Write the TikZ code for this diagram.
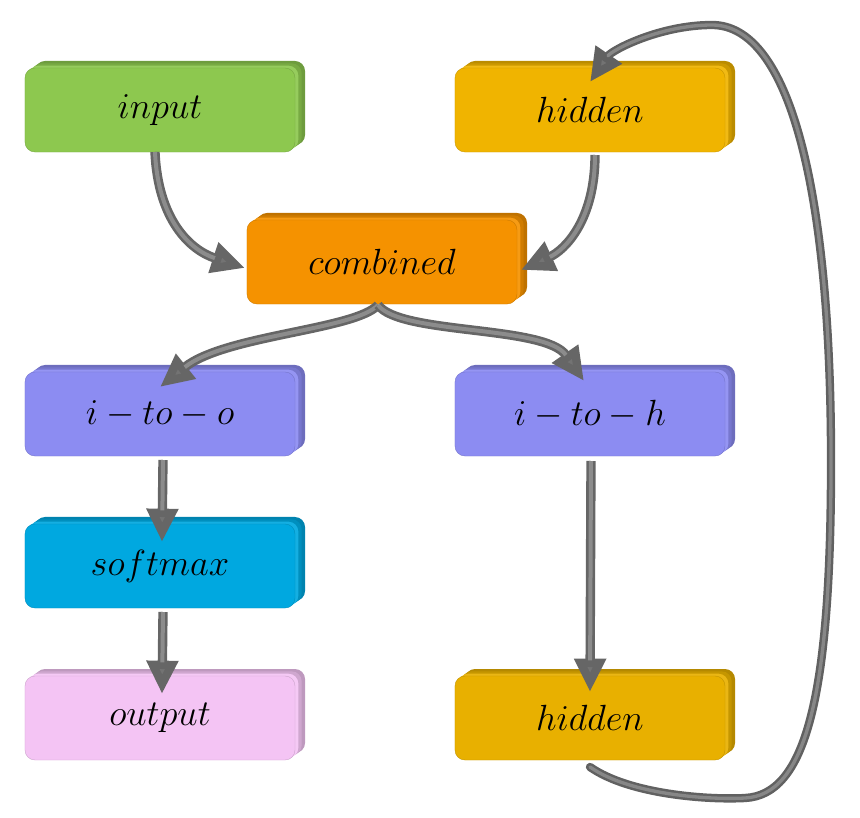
\documentclass[tikz,border=0pt]{standalone}
\usepackage{graphicx}
\usetikzlibrary{shadows,arrows.meta}
\definecolor{cgreen}{HTML}{8DC84F}
\definecolor{cgold}{HTML}{F0B400}
\definecolor{cgoldb}{HTML}{E8B000}
\definecolor{corange}{HTML}{F59200}
\definecolor{cviolet}{HTML}{8C8CF2}
\definecolor{cblue}{HTML}{00A8E0}
\definecolor{cpink}{HTML}{F4C4F4}
\newcommand{\boxlabel}[1]{\scalebox{1.25}{$#1$}}
\tikzset{
  box/.style={rectangle, rounded corners=0.3cm, minimum width=8.1cm, minimum height=2.52cm,
    fill=#1, draw=#1!85!black, line width=0.4pt,
    font=\Huge,
    general shadow={fill=#1!78!black, draw=none, shadow xshift=0.30cm, shadow yshift=0.21cm},
    general shadow={fill=#1!85!black, draw=none, shadow xshift=0.20cm, shadow yshift=0.14cm},
    general shadow={fill=#1!92!white, draw=none, shadow xshift=0.10cm, shadow yshift=0.07cm}},
  pipe/.style={draw=black!60, line width=0.28cm,
    -{Triangle[length=1.0cm,width=0.9cm,fill=black!55]},
    postaction={draw=black!45, line width=0.12cm, -, shorten >=0.95cm}},
  loop/.style={draw=black!62, line width=0.25cm, line cap=round,
    -{Triangle[length=1.0cm,width=0.9cm,fill=black!55]},
    postaction={draw=black!47, line width=0.1cm, -, shorten >=0.95cm}}
}
\begin{document}
\begin{tikzpicture}[x=0.03cm,y=-0.03cm]
\useasboundingbox (0,0) rectangle (860,818);
\node[box=cgreen]  (in)   at (160,110) {\boxlabel{input}};
\node[box=cgold]   (hid)  at (590,110) {\boxlabel{hidden}};
\node[box=corange] (comb) at (382,262) {\boxlabel{combined}};
\node[box=cviolet] (ito)  at (160,414) {\boxlabel{i-to-o}};
\node[box=cviolet] (ith)  at (590,414) {\boxlabel{i-to-h}};
\node[box=cblue]   (soft) at (160,566) {\boxlabel{softmax}};
\node[box=cpink]   (out)  at (160,718) {\boxlabel{output}};
\node[box=cgoldb]  (hid2) at (590,718) {\boxlabel{hidden}};
% connectors
\coordinate (a1) at (155,152);
\coordinate (a2) at (245,268);
\draw[pipe] (a1) .. controls (158,220) and (190,250) .. (a2);
\coordinate (b1) at (595,155);
\coordinate (b2) at (521,270);
\draw[pipe] (b1) .. controls (595,220) and (565,250) .. (b2);
\coordinate (c0) at (378,305);
\coordinate (c1) at (160,387);
\draw[pipe] (c0) .. controls (355,330) and (225,335) .. (c1);
\coordinate (c2) at (584,381);
\draw[pipe] (c0) .. controls (400,335) and (545,325) .. (c2);
\coordinate (d1) at (163,460);
\coordinate (d2) at (162,542);
\draw[pipe] (d1) -- (d2);
\coordinate (e1) at (163,612);
\coordinate (e2) at (162,694);
\draw[pipe] (e1) -- (e2);
\coordinate (f1) at (591,461);
\coordinate (f2) at (590,692);
\draw[pipe] (f1) -- (f2);
\coordinate (g1) at (590,767);
\coordinate (g2) at (590,82);
\draw[loop] (g1) .. controls (630,795) and (710,800) .. (745,798)
  .. controls (805,795) and (832,700) .. (831,450)
  .. controls (830,190) and (790,25) .. (712,25)
  .. controls (660,25) and (612,50) .. (g2);
\end{tikzpicture}
\end{document}
